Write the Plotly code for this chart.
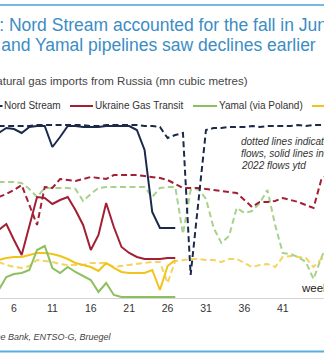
import plotly.graph_objects as go

# ISO weeks shown on the x axis
weeks_2021 = list(range(4, 48))
weeks_2022 = list(range(4, 28))

# Weekly imports, mn cubic metres -- 2021 full-year flows
nord_stream_2021 = [1026, 1026, 1026, 1026, 1026, 1032, 1032, 1032, 1032, 1032,
                    1032, 1032, 1026, 1026, 1032, 1032, 1032, 1032, 1032, 1026,
                    1026, 1020, 954, 972, 984, 132, 552, 1002, 1014, 1014,
                    1020, 1020, 1020, 1026, 1020, 1026, 1026, 1026, 1026, 1032,
                    1026, 1032, 1032, 1032]
ukraine_2021 = [600, 618, 642, 672, 552, 432, 660, 654, 708, 702,
                696, 708, 720, 714, 708, 732, 732, 732, 732, 726,
                720, 714, 702, 678, 654, 654, 654, 648, 642, 636,
                630, 624, 582, 540, 570, 570, 576, 594, 582, 570,
                552, 534, 702, 750]
yamal_2021 = [690, 690, 690, 684, 648, 600, 654, 654, 654, 654,
              648, 576, 618, 654, 660, 660, 660, 660, 660, 660,
              600, 654, 660, 660, 378, 642, 648, 588, 414, 324,
              366, 534, 504, 516, 564, 642, 432, 264, 258, 240,
              210, 108, 234, 342]
turkstream_2021 = [210, 192, 180, 174, 186, 222, 216, 210, 198, 192,
                   192, 192, 204, 204, 204, 180, 186, 192, 198, 204,
                   210, 210, 84, 216, 222, 228, 228, 222, 222, 210,
                   228, 228, 204, 180, 192, 198, 180, 240, 246, 240,
                   234, 180, 228, 234]

# Weekly imports, mn cubic metres -- 2022 year to date
nord_stream_2022 = [984, 1014, 1008, 984, 1020, 1026, 1026, 900, 960, 1026,
                    1026, 1020, 1020, 1020, 1026, 1026, 1026, 1026, 1002, 882,
                    510, 414, 414, 414]
ukraine_2022 = [402, 438, 342, 252, 426, 600, 594, 558, 582, 600,
                522, 432, 282, 372, 564, 420, 300, 264, 240, 228,
                228, 228, 234, 234]
yamal_2022 = [42, 120, 138, 144, 162, 282, 306, 174, 144, 180,
              150, 126, 102, 30, 84, 12, 0, 0, 0, 0,
              0, 0, 0, 0]
turkstream_2022 = [222, 234, 240, 240, 252, 264, 264, 258, 246, 228,
                   204, 192, 180, 156, 204, 174, 150, 144, 144, 144,
                   162, 42, 186, 222]

tick_weeks = [6, 11, 16, 21, 26, 31, 36, 41, 46]

NAVY = "#1b2a4a"
RED = "#a31f34"
GREEN = "#8dbf5f"
GREEN_LIGHT = "#a9d18e"
YELLOW = "#f2c31b"
YELLOW_LIGHT = "#f4d35e"
TITLE_BLUE = "#3b8dc4"
FONT = "Liberation Sans, Arial, sans-serif"

W, H = 324, 358
TOP, BOTTOM = 115, 298          # plot area edges in pixels


def px(x):
    return x / W


def py(y):
    return (BOTTOM - y) / (BOTTOM - TOP)


DASH = "6px,3.5px"

fig = go.Figure()

series = [
    (weeks_2021, turkstream_2021, YELLOW_LIGHT, DASH),
    (weeks_2022, turkstream_2022, YELLOW, "solid"),
    (weeks_2021, yamal_2021, GREEN_LIGHT, DASH),
    (weeks_2022, yamal_2022, GREEN, "solid"),
    (weeks_2021, ukraine_2021, RED, DASH),
    (weeks_2022, ukraine_2022, RED, "solid"),
    (weeks_2021, nord_stream_2021, NAVY, DASH),
    (weeks_2022, nord_stream_2022, NAVY, "solid"),
]
for xs, ys, col, dash in series:
    fig.add_trace(go.Scatter(
        x=xs, y=ys, mode="lines", showlegend=False, hoverinfo="skip",
        line=dict(color=col, width=2, dash=dash),
    ))

annotations = []
shapes = []

# Title, subtitle
annotations.append(dict(
    text="Figure 1: Nord Stream accounted for the fall in June, while",
    x=px(-67), y=py(25), xanchor="left", yanchor="middle",
    font=dict(family=FONT, size=17.5, color=TITLE_BLUE)))
annotations.append(dict(
    text="Ukraine and Yamal pipelines saw declines earlier",
    x=px(318), y=py(45), xanchor="right", yanchor="middle",
    font=dict(family=FONT, size=17.5, color=TITLE_BLUE)))
annotations.append(dict(
    text="Natural gas imports from Russia (mn cubic metres)",
    x=px(250), y=py(81.5), xanchor="right", yanchor="middle",
    font=dict(family=FONT, size=11.5, color="#444444")))

# Legend
legend_items = [
    ("Nord Stream", NAVY, -20, 2.5, 2),
    ("Ukraine Gas Transit", RED, 70, 93, 93),
    ("Yamal (via Poland)", GREEN, 193, 217, 217),
    ("TurkStream", YELLOW, 312, 335, 335),
]
for label, col, x0, x1, xt in legend_items:
    shapes.append(dict(type="line", xref="paper", yref="paper",
                       x0=px(x0), x1=px(x1), y0=py(106), y1=py(106),
                       line=dict(color=col, width=2)))
    annotations.append(dict(
        text=label, x=px(xt), y=py(106), xanchor="left", yanchor="middle",
        font=dict(family=FONT, size=10, color="#333333")))

# Note inside the plot
note_lines = ["dotted lines indicate 2021", "flows, solid lines indicate", "2022 flows ytd"]
for i, line in enumerate(note_lines):
    annotations.append(dict(
        text="<i>" + line + "</i>", x=px(239), y=py(141.7 + 11.7 * i),
        xanchor="left", yanchor="middle",
        font=dict(family=FONT, size=10, color="#333333")))

annotations.append(dict(
    text="week", x=px(299), y=py(288), xanchor="left", yanchor="middle",
    font=dict(family=FONT, size=11.5, color="#222222")))

annotations.append(dict(
    text="<i>Source: Deutsche Bank, ENTSO-G, Bruegel</i>",
    x=px(114), y=py(337), xanchor="right", yanchor="middle",
    font=dict(family=FONT, size=9, color="#444444")))

for a in annotations:
    a.update(xref="paper", yref="paper", showarrow=False)

# Top and bottom rules
shapes.append(dict(type="line", xref="paper", yref="paper", x0=0, x1=1,
                   y0=py(5), y1=py(5), line=dict(color="#4a9fd8", width=1.5)))
shapes.append(dict(type="line", xref="paper", yref="paper", x0=0, x1=1,
                   y0=py(351.5), y1=py(351.5), line=dict(color="#5aaee0", width=2)))

week_px = 7.68
x_left = 6 - 14 / week_px
x_right = 6 + (W - 14) / week_px

fig.update_layout(
    width=W, height=H, autosize=False,
    margin=dict(l=0, r=0, t=TOP, b=H - BOTTOM, pad=0),
    paper_bgcolor="white", plot_bgcolor="white",
    annotations=annotations, shapes=shapes,
    xaxis=dict(range=[x_left, x_right], tickvals=tick_weeks,
               showgrid=False, zeroline=False, showline=True,
               linecolor="#d4d4d4", linewidth=1, ticks="",
               layer="below traces",
               tickfont=dict(family=FONT, size=10.5, color="#333333")),
    yaxis=dict(range=[-6, 1092], visible=False, showgrid=False,
               zeroline=False, fixedrange=True),
    font=dict(family=FONT),
)

fig.write_html("out.html", config={"displayModeBar": False})
